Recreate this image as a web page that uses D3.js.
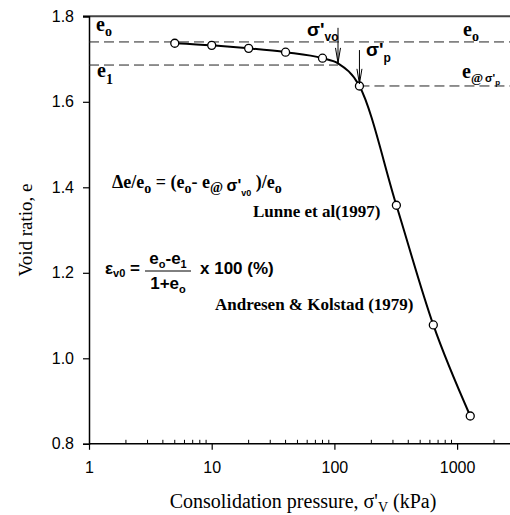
<!DOCTYPE html>
<html>
<head>
<meta charset="utf-8">
<script src="https://cdn.jsdelivr.net/npm/d3@7/dist/d3.min.js"></script>
<style>
  html, body { margin: 0; padding: 0; background: #fff; }
  svg { display: block; }
  .tick text { font-family: "Liberation Sans", Arial, sans-serif; font-size: 16px; fill: #000; }
  .serif { font-family: "Liberation Serif", "Times New Roman", serif; }
  .sans { font-family: "Liberation Sans", Arial, sans-serif; }
</style>
</head>
<body>
<svg id="chart" width="510" height="515"></svg>
<script>
(function () {
    'use strict';

    // measured points (kPa, void ratio)
    var pressure = [5, 10, 20, 40, 80, 160, 320, 640, 1280];
    var voidRatio = [1.737, 1.732, 1.725, 1.716, 1.702, 1.637, 1.358, 1.078, 0.865];

    // fitted curve, with the bend at sigma'vo
    var curveP = [5, 10, 20, 40, 80, 107, 160, 320, 640, 1280];
    var curveE = [1.737, 1.732, 1.725, 1.716, 1.702, 1.690, 1.637, 1.358, 1.078, 0.865];

    var sigmaVo = 107, sigmaP = 160;
    var e0 = 1.740, e1 = 1.686, eAtSigmaP = 1.637;

    var yTicks = [0.8, 1.0, 1.2, 1.4, 1.6, 1.8];
    var xTicks = [1, 10, 100, 1000];
    var xMinor = [2, 3, 4, 5, 6, 7, 8, 9, 20, 30, 40, 50, 60, 70, 80, 90,
                  200, 300, 400, 500, 600, 700, 800, 900, 2000];

    var svg = d3.select("#chart");
    var left = 89, decade = 122.7;

    var x = d3.scaleLog().domain([1, 3000]).range([left, left + decade * Math.log10(3000)]);
    var y = d3.scaleLinear().domain([0.8, 1.8]).range([443.8, 16.3]);
    var xEnd = 512;

    // top frame line
    svg.append("line")
        .attr("x1", left - 6).attr("x2", xEnd)
        .attr("y1", y(1.8)).attr("y2", y(1.8))
        .attr("stroke", "#444").attr("stroke-width", 2);

    // axes
    var yAxis = svg.append("g")
        .attr("transform", "translate(" + left + ",0)")
        .call(d3.axisLeft(y).tickValues(yTicks).tickSize(6).tickPadding(9)
            .tickFormat(function (d) { return d.toFixed(1); }));
    yAxis.select(".domain").attr("stroke", "#000").attr("stroke-width", 1.5);
    yAxis.selectAll(".tick line").attr("stroke", "#000").attr("stroke-width", 1.2);

    var xAxis = svg.append("g")
        .attr("transform", "translate(0," + y(0.8) + ")")
        .call(d3.axisBottom(x).tickValues(xTicks).tickSize(6).tickPadding(12)
            .tickFormat(d3.format("d")));
    xAxis.select(".domain").remove();
    xAxis.append("line")
        .attr("x1", left).attr("x2", xEnd)
        .attr("stroke", "#000").attr("stroke-width", 1.5);
    xAxis.selectAll(".tick line").attr("stroke", "#000").attr("stroke-width", 1.2);
    xAxis.selectAll(".minor")
        .data(xMinor)
        .enter()
        .append("line")
        .attr("class", "minor")
        .attr("x1", function (d) { return x(d); })
        .attr("x2", function (d) { return x(d); })
        .attr("y1", 0).attr("y2", -4)
        .attr("stroke", "#000").attr("stroke-width", 1);

    // dashed reference lines
    var dashed = [
        { from: 1, to: 3000, e: e0 },
        { from: 1, to: sigmaVo, e: e1 },
        { from: sigmaP, to: 3000, e: eAtSigmaP }
    ];
    svg.selectAll(".ref")
        .data(dashed)
        .enter()
        .append("line")
        .attr("class", "ref")
        .attr("x1", function (d) { return x(d.from); })
        .attr("x2", function (d) { return Math.min(x(d.to), xEnd); })
        .attr("y1", function (d) { return y(d.e); })
        .attr("y2", function (d) { return y(d.e); })
        .attr("stroke", "#222").attr("stroke-width", 1)
        .attr("stroke-dasharray", "10,5");

    // curve
    var pts = curveP.map(function (p, i) { return [x(p), y(curveE[i])]; });
    svg.append("path")
        .attr("d", d3.line().curve(d3.curveMonotoneX)(pts))
        .attr("fill", "none")
        .attr("stroke", "#000")
        .attr("stroke-width", 2);

    svg.selectAll(".pt")
        .data(pressure)
        .enter()
        .append("circle")
        .attr("class", "pt")
        .attr("cx", function (d) { return x(d); })
        .attr("cy", function (d, i) { return y(voidRatio[i]); })
        .attr("r", 4)
        .attr("fill", "#fff")
        .attr("stroke", "#000")
        .attr("stroke-width", 1.3);

    // arrows
    var arrows = [
        { p: sigmaVo, top: 1.773, bottom: 1.691 },
        { p: sigmaP, top: 1.721, bottom: 1.642 }
    ];
    arrows.forEach(function (a) {
        var ax = x(a.p), y0 = y(a.top), y1 = y(a.bottom);
        svg.append("line")
            .attr("x1", ax).attr("x2", ax).attr("y1", y0).attr("y2", y1)
            .attr("stroke", "#000").attr("stroke-width", 1);
        svg.append("path")
            .attr("d", "M" + (ax - 2.5) + "," + (y1 - 15) + "L" + ax + "," + y1 + "L" + (ax + 2.5) + "," + (y1 - 15))
            .attr("fill", "none").attr("stroke", "#000").attr("stroke-width", 1);
    });

    // text helper: parts = [[text, size, dy, class], ...]
    function label(cls, px, py, weight, parts, anchor) {
        var t = svg.append("text")
            .attr("class", cls)
            .attr("x", px).attr("y", py)
            .attr("font-weight", weight)
            .attr("text-anchor", anchor || "start");
        parts.forEach(function (p) {
            var s = t.append("tspan").attr("font-size", p[1]).text(p[0]);
            if (p[2]) s.attr("dy", p[2]);
            if (p[3]) s.attr("class", p[3]);
        });
        return t;
    }

    label("serif", 96, 31, "bold", [["e", 20], ["o", 14, 5]]);
    label("serif", 97, 77, "bold", [["e", 20], ["1", 14, 7]]);
    label("serif", 463, 36, "bold", [["e", 20], ["o", 14, 5]]);
    label("serif", 462, 78, "bold", [["e", 20], ["@", 13, 4], [" ", 8], ["σ'", 11, 0, "sans"], ["p", 8, 3, "sans"]]);

    label("sans", 307, 36, "bold", [["σ'", 19], ["vo", 12, 5]]);
    label("sans", 366, 56, "bold", [["σ'", 19], ["p", 12, 6]]);

    label("serif", 112, 188, "bold", [
        ["Δe/e", 18], ["o", 14, 5], [" = (e", 18, -5], ["o", 14, 5], ["- e", 18, -5],
        ["@", 14, 4], [" ", 14], ["σ'", 16, -1, "sans"], ["v0", 9, 5, "sans"], [" )/e", 18, -8], ["o", 14, 5]
    ]);
    label("serif", 253, 217, "bold", [["Lunne et al(1997)", 17]]);

    label("sans", 105, 274, "bold", [["ε", 17], ["v0", 11, 3], [" =", 17, -3]]);
    label("sans", 168, 264, "bold", [["e", 17], ["o", 11, 4], ["-e", 17, -4], ["1", 11, 4]], "middle");
    svg.append("line")
        .attr("x1", 145).attr("x2", 191).attr("y1", 271).attr("y2", 271)
        .attr("stroke", "#000").attr("stroke-width", 1);
    label("sans", 168, 289, "bold", [["1+e", 17], ["o", 11, 4]], "middle");
    label("sans", 200, 274, "bold", [["x 100 (%)", 17]]);

    label("serif", 215, 310, "bold", [["Andresen & Kolstad (1979)", 17]]);

    // axis titles
    svg.append("text")
        .attr("class", "serif")
        .attr("transform", "translate(32,230) rotate(-90)")
        .attr("text-anchor", "middle")
        .attr("font-size", 19)
        .text("Void ratio, e");

    label("serif", 303, 508, "normal", [
        ["Consolidation pressure, σ'", 20], ["V", 14, 4], [" (kPa)", 20, -4]
    ], "middle");
})();
</script>
</body>
</html>
